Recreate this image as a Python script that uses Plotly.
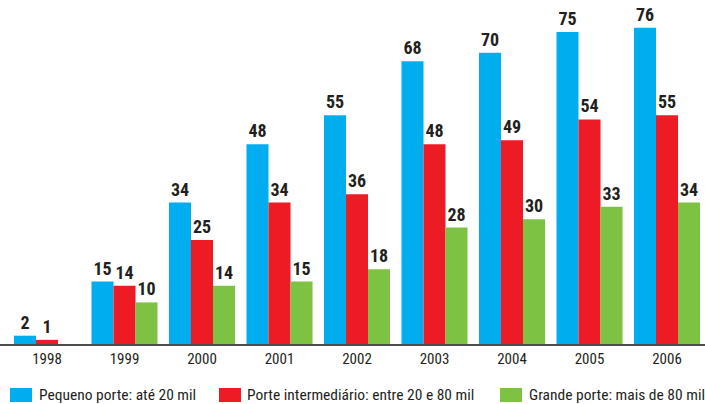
import plotly.graph_objects as go

years = ["1998", "1999", "2000", "2001", "2002", "2003", "2004", "2005", "2006"]
pequeno = [2, 15, 34, 48, 55, 68, 70, 75, 76]
intermediario = [1, 14, 25, 34, 36, 48, 49, 54, 55]
grande = [None, 10, 14, 15, 18, 28, 30, 33, 34]

names = [
    "Pequeno porte: até 20 mil",
    "Porte intermediário: entre 20 e 80 mil",
    "Grande porte: mais de 80 mil",
]
colors = ["#00AEEF", "#ED1C24", "#7DC242"]

FONT = "Roboto Condensed, Liberation Sans Narrow, Liberation Sans, Arial, sans-serif"
TXT = "#231F20"

W, H = 705, 404
PLOT_H = 344

fig = go.Figure()
for name, vals, col in zip(names, [pequeno, intermediario, grande], colors):
    fig.add_trace(go.Bar(
        x=years, y=vals, name=name,
        marker=dict(color=col, line=dict(width=0)),
        text=[("" if v is None else str(v)) for v in vals],
        textposition="outside",
        textfont=dict(family=FONT, size=18, color=TXT),
        texttemplate="<b>%{text}</b>",
        cliponaxis=False,
        showlegend=False,
    ))

# legend drawn manually (swatch + label) to match the reference layout
leg_sw_x = [10, 219, 500]
leg_tx_x = [37, 245, 527]
shapes = []
annotations = []
for name, col, sx, tx in zip(names, colors, leg_sw_x, leg_tx_x):
    shapes.append(dict(
        type="rect", xref="paper", yref="paper",
        x0=sx / W, x1=(sx + 22) / W,
        y0=(PLOT_H - 402) / PLOT_H, y1=(PLOT_H - 388) / PLOT_H,
        fillcolor=col, line=dict(width=0),
    ))
    annotations.append(dict(
        text=name, xref="paper", yref="paper",
        x=tx / W, y=(PLOT_H - 395) / PLOT_H,
        xanchor="left", yanchor="middle", showarrow=False,
        font=dict(family=FONT, size=15.5, color=TXT),
    ))

fig.update_layout(
    width=W, height=H,
    margin=dict(l=0, r=0, t=0, b=H - PLOT_H, pad=0),
    paper_bgcolor="white", plot_bgcolor="white",
    barmode="group", bargap=0.148, bargroupgap=0,
    font=dict(family=FONT, color=TXT),
    showlegend=False,
    shapes=shapes,
    annotations=annotations,
)
fig.update_xaxes(
    showgrid=False, showline=True, linecolor="#4D4D4D", linewidth=1.5,
    ticks="", tickfont=dict(family=FONT, size=15, color=TXT),
    range=[-47 / 77.5, (W - 47) / 77.5],
    automargin=False,
)
fig.update_yaxes(
    visible=False, range=[0, 82.7], showgrid=False, zeroline=False,
    automargin=False,
)

fig.write_html(
    "out.html",
    config={"displayModeBar": False},
    post_script="document.body.style.margin='0';document.body.style.overflow='hidden';",
)
